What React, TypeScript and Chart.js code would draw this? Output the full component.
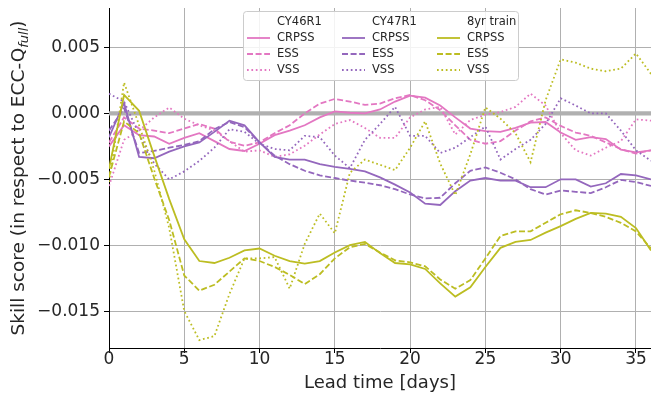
import React, { useEffect, useRef } from 'react';
import { Chart, registerables } from 'chart.js';

Chart.register(...registerables);

// Lead time in days (categories on the x axis)
const leadDays = [0, 1, 2, 3, 4, 5, 6, 7, 8, 9, 10, 11, 12, 13, 14, 15, 16, 17, 18, 19, 20, 21, 22, 23, 24, 25, 26, 27, 28, 29, 30, 31, 32, 33, 34, 35, 36];

// CY46R1
const cy46Crpss = [-2.5e-3, -0.9e-3, -1.65e-3, -1.75e-3, -2.3e-3, -1.85e-3, -1.5e-3, -2.1e-3, -2.7e-3, -2.85e-3, -2.3e-3, -1.65e-3, -1.3e-3, -0.9e-3, -0.3e-3, 0.15e-3, 0.05e-3, 0.0, 0.3e-3, 0.9e-3, 1.35e-3, 1.2e-3, 0.6e-3, -0.3e-3, -1.15e-3, -1.35e-3, -1.4e-3, -1.1e-3, -0.7e-3, -0.65e-3, -1.45e-3, -2.0e-3, -1.8e-3, -1.95e-3, -2.75e-3, -2.95e-3, -2.8e-3];
const cy46Ess = [-2.2e-3, -0.3e-3, -1.15e-3, -1.3e-3, -1.5e-3, -1.15e-3, -0.8e-3, -1.15e-3, -2.15e-3, -2.45e-3, -2.2e-3, -1.5e-3, -0.9e-3, 0.0, 0.75e-3, 1.1e-3, 0.9e-3, 0.65e-3, 0.75e-3, 1.15e-3, 1.4e-3, 1.0e-3, 0.25e-3, -0.9e-3, -2.0e-3, -2.3e-3, -2.1e-3, -1.3e-3, -0.6e-3, -0.3e-3, -0.95e-3, -1.45e-3, -1.7e-3, -2.2e-3, -2.7e-3, -3.05e-3, -2.8e-3];
const cy46Vss = [-5.5e-3, -2.0e-3, -1.3e-3, -0.3e-3, 0.45e-3, -0.4e-3, -0.9e-3, -1.3e-3, -2.1e-3, -2.9e-3, -2.8e-3, -3.3e-3, -3.1e-3, -2.45e-3, -1.6e-3, -0.8e-3, -0.5e-3, -1.1e-3, -1.85e-3, -1.85e-3, -0.3e-3, 0.3e-3, 0.5e-3, -1.6e-3, -0.5e-3, -0.1e-3, 0.1e-3, 0.5e-3, 1.5e-3, 0.6e-3, -1.5e-3, -2.8e-3, -3.2e-3, -2.6e-3, -2.1e-3, -0.45e-3, -0.55e-3];

// CY47R1
const cy47Crpss = [-1.8e-3, 0.8e-3, -3.3e-3, -3.4e-3, -2.9e-3, -2.5e-3, -2.2e-3, -1.4e-3, -0.55e-3, -0.9e-3, -2.2e-3, -3.3e-3, -3.5e-3, -3.5e-3, -3.85e-3, -4.05e-3, -4.2e-3, -4.4e-3, -4.85e-3, -5.4e-3, -6.0e-3, -6.85e-3, -6.95e-3, -5.9e-3, -5.1e-3, -4.9e-3, -5.1e-3, -5.1e-3, -5.6e-3, -5.6e-3, -5.0e-3, -5.0e-3, -5.55e-3, -5.3e-3, -4.6e-3, -4.7e-3, -5.0e-3];
const cy47Ess = [-1.3e-3, 0.4e-3, -3.0e-3, -2.85e-3, -2.6e-3, -2.4e-3, -2.1e-3, -1.2e-3, -0.65e-3, -1.05e-3, -2.2e-3, -3.2e-3, -3.85e-3, -4.35e-3, -4.7e-3, -4.9e-3, -5.1e-3, -5.25e-3, -5.45e-3, -5.75e-3, -6.15e-3, -6.45e-3, -6.4e-3, -5.3e-3, -4.35e-3, -4.1e-3, -4.5e-3, -5.0e-3, -5.75e-3, -6.15e-3, -5.85e-3, -5.95e-3, -6.05e-3, -5.6e-3, -5.05e-3, -5.2e-3, -5.5e-3];
const cy47Vss = [1.5e-3, 0.9e-3, -1.6e-3, -3.8e-3, -5.0e-3, -4.4e-3, -3.6e-3, -2.6e-3, -1.2e-3, -1.4e-3, -2.3e-3, -2.7e-3, -2.8e-3, -1.7e-3, -1.8e-3, -3.2e-3, -4.15e-3, -2.0e-3, -0.8e-3, 0.5e-3, -1.7e-3, -1.7e-3, -3.0e-3, -2.6e-3, -1.8e-3, -1.0e-3, -3.5e-3, -2.7e-3, -2.0e-3, -0.8e-3, 1.15e-3, 0.6e-3, 0.0, 0.0, -1.3e-3, -2.8e-3, -3.6e-3];

// 8yr train
const train8Crpss = [-4.2e-3, 1.4e-3, 0.2e-3, -3.2e-3, -6.5e-3, -9.55e-3, -11.2e-3, -11.35e-3, -10.95e-3, -10.4e-3, -10.25e-3, -10.8e-3, -11.2e-3, -11.4e-3, -11.2e-3, -10.55e-3, -10.0e-3, -9.75e-3, -10.6e-3, -11.35e-3, -11.45e-3, -11.8e-3, -12.9e-3, -13.9e-3, -13.2e-3, -11.65e-3, -10.2e-3, -9.75e-3, -9.6e-3, -9.05e-3, -8.55e-3, -8.0e-3, -7.55e-3, -7.6e-3, -7.85e-3, -8.7e-3, -10.4e-3];
const train8Ess = [-4.8e-3, -0.6e-3, -1.5e-3, -4.9e-3, -8.1e-3, -12.3e-3, -13.45e-3, -13.0e-3, -12.0e-3, -11.0e-3, -11.2e-3, -11.65e-3, -12.25e-3, -12.95e-3, -12.2e-3, -11.0e-3, -10.15e-3, -9.9e-3, -10.55e-3, -11.15e-3, -11.3e-3, -11.6e-3, -12.6e-3, -13.3e-3, -12.65e-3, -11.0e-3, -9.3e-3, -8.95e-3, -8.95e-3, -8.3e-3, -7.65e-3, -7.35e-3, -7.55e-3, -7.85e-3, -8.3e-3, -8.95e-3, -10.25e-3];
const train8Vss = [-5.2e-3, 2.35e-3, -0.9e-3, -4.3e-3, -8.7e-3, -15.0e-3, -17.2e-3, -16.9e-3, -13.7e-3, -11.0e-3, -11.0e-3, -10.9e-3, -13.3e-3, -9.9e-3, -7.6e-3, -9.1e-3, -4.5e-3, -3.5e-3, -3.9e-3, -4.3e-3, -2.6e-3, -0.6e-3, -3.8e-3, -6.2e-3, -3.1e-3, 0.46e-3, -0.4e-3, -1.5e-3, -3.7e-3, 1.0e-3, 4.1e-3, 3.85e-3, 3.4e-3, 3.2e-3, 3.4e-3, 4.55e-3, 3.0e-3];

// Reference (zero) line
const zeroLineX = [0, 36];
const zeroLineY = [0, 0];

// Axis ticks
const xTicks = [0, 5, 10, 15, 20, 25, 30, 35];
const yTicks = [-0.015, -0.01, -0.005, 0, 0.005];

const groupNames = ['CY46R1', 'CY47R1', '8yr train'];
const metricNames = ['CRPSS', 'ESS', 'VSS'];

const PINK = '#e377c2';
const PURPLE = '#9467bd';
const OLIVE = '#bcbd22';
const GRID = '#b0b0b0';
const TEXT = '#262626';
const FONT = "'DejaVu Sans', sans-serif";

const DASHES: number[][] = [[], [6, 2.6], [1.7, 2.7]];
const COLORS = [PINK, PURPLE, OLIVE];
const LW = 1.8;

const seriesTable = [
  [cy46Crpss, cy46Ess, cy46Vss],
  [cy47Crpss, cy47Ess, cy47Vss],
  [train8Crpss, train8Ess, train8Vss],
];

const legendPlugin = {
  id: 'gridLegend',
  afterDraw(chart: any) {
    const ctx = chart.ctx as CanvasRenderingContext2D;
    ctx.save();
    const bx = 243.5, by = 11.5, bw = 275, bh = 69, r = 3;
    ctx.beginPath();
    ctx.moveTo(bx + r, by);
    ctx.lineTo(bx + bw - r, by);
    ctx.arcTo(bx + bw, by, bx + bw, by + r, r);
    ctx.lineTo(bx + bw, by + bh - r);
    ctx.arcTo(bx + bw, by + bh, bx + bw - r, by + bh, r);
    ctx.lineTo(bx + r, by + bh);
    ctx.arcTo(bx, by + bh, bx, by + bh - r, r);
    ctx.lineTo(bx, by + r);
    ctx.arcTo(bx, by, bx + r, by, r);
    ctx.closePath();
    ctx.fillStyle = 'rgba(255,255,255,0.85)';
    ctx.fill();
    ctx.strokeStyle = '#cccccc';
    ctx.lineWidth = 1;
    ctx.stroke();

    const colX = [247, 342, 437];
    const rowY = [22.5, 38, 54, 70];
    ctx.font = `11.5px ${FONT}`;
    ctx.fillStyle = TEXT;
    ctx.textBaseline = 'middle';
    ctx.textAlign = 'left';
    for (let g = 0; g < 3; g++) {
      const hx = colX[g];
      ctx.fillStyle = TEXT;
      ctx.fillText(groupNames[g], hx + 30, rowY[0]);
      for (let m = 0; m < 3; m++) {
        const y = rowY[m + 1];
        ctx.beginPath();
        ctx.setLineDash(DASHES[m]);
        ctx.strokeStyle = COLORS[g];
        ctx.lineWidth = LW;
        ctx.moveTo(hx, y);
        ctx.lineTo(hx + 23, y);
        ctx.stroke();
        ctx.setLineDash([]);
        ctx.fillStyle = TEXT;
        ctx.fillText(metricNames[m], hx + 30, y);
      }
    }
    ctx.restore();
  },
};

const titlesPlugin = {
  id: 'axisTitles',
  afterDraw(chart: any) {
    const ctx = chart.ctx as CanvasRenderingContext2D;
    const area = chart.chartArea;
    ctx.save();
    ctx.fillStyle = TEXT;
    // x title
    ctx.font = `18px ${FONT}`;
    ctx.textAlign = 'center';
    ctx.textBaseline = 'middle';
    ctx.fillText('Lead time [days]', (area.left + area.right) / 2, 383);
    // y title with subscript
    const main = 'Skill score (in respect to ECC-Q';
    const sub = 'full';
    const end = ')';
    ctx.font = `18.5px ${FONT}`;
    const w1 = ctx.measureText(main).width;
    const w3 = ctx.measureText(end).width;
    ctx.font = `italic 13px ${FONT}`;
    const w2 = ctx.measureText(sub).width;
    const total = w1 + w2 + w3;
    ctx.translate(24, (area.top + area.bottom) / 2);
    ctx.rotate(-Math.PI / 2);
    ctx.textAlign = 'left';
    ctx.textBaseline = 'alphabetic';
    let x = -total / 2;
    ctx.font = `18.5px ${FONT}`;
    ctx.fillText(main, x, 0);
    x += w1;
    ctx.font = `italic 13px ${FONT}`;
    ctx.fillText(sub, x, 3.5);
    x += w2;
    ctx.font = `18.5px ${FONT}`;
    ctx.fillText(end, x, 0);
    ctx.restore();
  },
};

function fmtY(v: number): string {
  if (Math.abs(v) < 1e-9) return '0.000';
  return (v < 0 ? '\u2212' : '') + Math.abs(v).toFixed(3);
}

export default function App() {
  const ref = useRef<HTMLCanvasElement | null>(null);
  useEffect(() => {
    if (!ref.current) return;
    const datasets: any[] = [
      {
        label: 'zero',
        data: zeroLineX.map((x, i) => ({ x, y: zeroLineY[i] })),
        borderColor: GRID,
        borderWidth: 4.2,
        pointRadius: 0,
        order: 100,
      },
    ];
    seriesTable.forEach((group, g) => {
      group.forEach((vals, m) => {
        datasets.push({
          label: `${groupNames[g]} ${metricNames[m]}`,
          data: leadDays.map((d, i) => ({ x: d, y: vals[i] })),
          borderColor: COLORS[g],
          borderWidth: LW,
          borderDash: DASHES[m],
          pointRadius: 0,
          tension: 0,
          fill: false,
          order: 10 - g,
        });
      });
    });

    const chart = new Chart(ref.current, {
      type: 'line',
      data: { datasets },
      plugins: [titlesPlugin, legendPlugin],
      options: {
        animation: false,
        responsive: false,
        maintainAspectRatio: false,
        layout: { padding: { top: 8, right: 0, left: 0, bottom: 0 } },
        plugins: { legend: { display: false }, tooltip: { enabled: false } },
        scales: {
          x: {
            type: 'linear',
            min: 0,
            max: 36,
            afterFit: (s: any) => { s.height = 47; s.paddingLeft = 0; s.paddingRight = 0; },
            afterBuildTicks: (s: any) => { s.ticks = xTicks.map((v) => ({ value: v })); },
            ticks: {
              font: { family: FONT, size: 17 },
              color: TEXT,
              padding: -4,
              maxRotation: 0,
              autoSkip: false,
              callback: (v: any) => String(v),
            },
            grid: { color: GRID, lineWidth: 1, tickLength: 5, tickColor: '#000', drawTicks: true },
            border: { color: '#000', width: 1 },
          },
          y: {
            type: 'linear',
            min: -0.0178,
            max: 0.008,
            afterFit: (s: any) => { s.width = 109; s.paddingTop = 0; s.paddingBottom = 0; },
            afterBuildTicks: (s: any) => { s.ticks = yTicks.map((v) => ({ value: v })); },
            ticks: {
              font: { family: FONT, size: 17 },
              color: TEXT,
              padding: 4,
              autoSkip: false,
              callback: (v: any) => fmtY(Number(v)),
            },
            grid: { color: GRID, lineWidth: 1, tickLength: 5, tickColor: '#000', drawTicks: true },
            border: { color: '#000', width: 1 },
          },
        },
      },
    });
    return () => chart.destroy();
  }, []);

  return (
    <div style={{ position: 'fixed', left: 0, top: 0, width: 651, height: 395, background: '#fff' }}>
      <canvas ref={ref} width={651} height={395} style={{ display: 'block', width: 651, height: 395 }} />
    </div>
  );
}
